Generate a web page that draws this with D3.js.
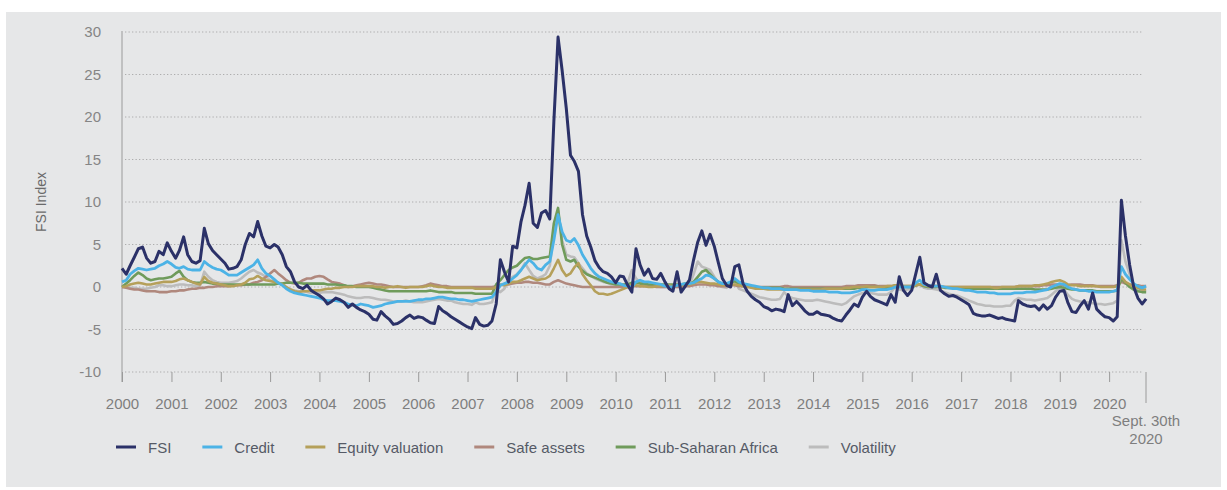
<!DOCTYPE html>
<html>
<head>
<meta charset="utf-8">
<script src="https://cdn.jsdelivr.net/npm/d3@7"></script>
<style>
  html, body { margin: 0; padding: 0; background: #ffffff; }
  svg { display: block; font-family: "Liberation Sans", Arial, sans-serif; }
</style>
</head>
<body>
<svg id="chart" width="1227" height="490"></svg>
<script>
// ---------- DATA (monthly, first of month, Jan 2000 .. Oct 2020 ~ Sept. 30th) ----------
const startYear = 2000;
const yTicks = [-10, -5, 0, 5, 10, 15, 20, 25, 30];
const yearLabels = ["2000","2001","2002","2003","2004","2005","2006","2007","2008","2009","2010",
                    "2011","2012","2013","2014","2015","2016","2017","2018","2019","2020"];
const endLabel = ["Sept. 30th", "2020"];
const seriesNames = ["FSI", "Credit", "Equity valuation", "Safe assets", "Sub-Saharan Africa", "Volatility"];

const fsi = [
  2.2, 1.5, 2.5, 3.5, 4.5, 4.7, 3.4, 2.8, 3.0, 4.2, 3.8, 5.2,
  4.2, 3.4, 4.3, 5.9, 3.8, 3.0, 2.8, 3.1, 6.9, 5.1, 4.3, 3.8,
  3.3, 2.8, 2.1, 2.2, 2.4, 3.2, 5.0, 6.3, 5.9, 7.7, 6.0, 4.8,
  4.6, 5.0, 4.7, 3.8, 2.4, 1.8, 0.6, 0.0, -0.2, 0.2, -0.4, -0.7,
  -1.0, -1.4, -2.0, -1.7, -1.3, -1.5, -1.8, -2.4, -2.0, -2.4, -2.7, -2.9,
  -3.2, -3.8, -3.9, -2.9, -3.4, -3.8, -4.4, -4.3, -4.0, -3.6, -3.3, -3.7,
  -3.5, -3.6, -3.9, -4.2, -4.3, -2.3, -2.8, -3.1, -3.5, -3.8, -4.1, -4.4,
  -4.7, -4.9, -3.6, -4.4, -4.6, -4.5, -4.0, -2.0, 3.2, 1.8, 0.6, 4.8,
  4.6, 7.7, 9.6, 12.2, 7.5, 7.0, 8.7, 9.0, 8.0, 19.5, 29.4, 25.5,
  21.0, 15.5, 14.8, 13.6, 8.5, 6.0, 4.7, 3.1, 2.3, 1.8, 1.6, 1.2,
  0.5, 1.3, 1.2, 0.2, -0.6, 4.5, 2.6, 1.4, 2.1, 1.0, 0.9, 1.6,
  0.6, -0.2, -0.5, 1.8, -0.6, 0.1, 0.8, 3.2, 5.3, 6.6, 4.9, 6.2,
  4.8, 2.8, 1.0, 0.2, 0.0, 2.4, 2.6, 0.4, -0.5, -1.1, -1.5, -1.8,
  -2.3, -2.5, -2.8, -2.6, -2.7, -2.9, -0.9, -2.2, -1.7, -2.2, -2.8, -3.2,
  -3.2, -2.9, -3.2, -3.3, -3.4, -3.7, -3.9, -4.0, -3.3, -2.7, -2.0, -2.3,
  -1.2, -0.5, -1.1, -1.5, -1.7, -1.9, -2.1, -0.9, -1.8, 1.2, -0.4, -1.0,
  -0.4, 1.6, 3.5, 0.5, 0.2, 0.0, 1.5, -0.4, -0.8, -1.1, -1.0, -1.2,
  -1.5, -1.8, -2.1, -3.1, -3.3, -3.4, -3.4, -3.3, -3.5, -3.7, -3.6, -3.8,
  -3.9, -4.0, -1.6, -2.0, -2.2, -2.3, -2.2, -2.7, -2.1, -2.6, -2.2, -1.2,
  -0.5, -0.4, -1.8, -2.9, -3.0, -2.2, -1.6, -2.6, -0.7, -2.6, -3.1, -3.5,
  -3.6, -4.0, -3.5, 10.2, 6.0, 2.6, 0.0, -1.3, -2.0, -1.4
];

const credit = [
  0.6, 0.8, 1.5, 1.9, 2.2, 2.1, 2.0, 2.1, 2.2, 2.5, 2.7, 3.0,
  2.7, 2.3, 2.2, 2.4, 2.1, 2.0, 2.0, 2.0, 3.0, 2.6, 2.3, 2.1,
  2.0, 1.7, 1.4, 1.4, 1.4, 1.7, 2.0, 2.3, 2.6, 3.2, 2.2, 1.6,
  1.3, 0.9, 0.5, 0.2, -0.2, -0.5, -0.7, -0.8, -0.9, -1.0, -1.1, -1.2,
  -1.3, -1.5, -1.6, -1.6, -1.6, -1.7, -1.8, -2.0, -2.1, -2.2, -2.0, -2.1,
  -2.2, -2.4, -2.3, -2.2, -2.0, -1.9, -1.8, -1.7, -1.7, -1.7, -1.7, -1.6,
  -1.5, -1.5, -1.4, -1.4, -1.3, -1.2, -1.2, -1.3, -1.4, -1.4, -1.5, -1.5,
  -1.6, -1.7, -1.6, -1.5, -1.4, -1.3, -1.2, -0.6, 0.2, 0.4, 0.6, 1.0,
  1.4, 2.0, 2.6, 3.2, 2.8, 2.2, 2.0, 2.6, 3.0, 5.5, 8.5, 6.5,
  5.5, 5.3, 5.7, 4.9, 3.8, 3.0, 2.2, 1.6, 1.2, 1.0, 0.8, 0.6,
  0.5, 0.4, 0.2, 0.1, 0.0, 0.6, 0.8, 0.6, 0.6, 0.5, 0.4, 0.3,
  0.1, 0.0, 0.0, 0.2, 0.3, 0.4, 0.4, 0.5, 0.8, 1.0, 1.4, 1.3,
  1.0, 0.6, 0.4, 0.4, 0.6, 1.0, 0.6, 0.4, 0.3, 0.2, 0.1, 0.0,
  -0.1, -0.1, -0.2, -0.2, -0.2, -0.3, -0.3, -0.3, -0.3, -0.4, -0.4, -0.4,
  -0.5, -0.5, -0.5, -0.5, -0.6, -0.6, -0.6, -0.7, -0.7, -0.7, -0.6, -0.5,
  -0.3, -0.3, -0.4, -0.4, -0.3, -0.3, -0.3, -0.2, 0.0, 0.0, 0.0, 0.0,
  0.0, 0.5, 0.8, 0.3, 0.2, 0.1, 0.1, 0.1, 0.0, -0.1, -0.2, -0.2,
  -0.3, -0.4, -0.4, -0.5, -0.6, -0.6, -0.6, -0.7, -0.7, -0.8, -0.8, -0.8,
  -0.8, -0.7, -0.7, -0.7, -0.6, -0.6, -0.6, -0.5, -0.4, -0.3, 0.0, 0.2,
  0.4, 0.3, 0.0, -0.2, -0.3, -0.4, -0.4, -0.5, -0.5, -0.6, -0.6, -0.6,
  -0.6, -0.5, -0.4, 2.4, 1.5, 0.9, 0.4, 0.1, -0.1, 0.1
];

const equity = [
  0.0, 0.1, 0.3, 0.4, 0.5, 0.4, 0.3, 0.3, 0.4, 0.5, 0.6, 0.6,
  0.6, 0.7, 0.9, 1.0, 0.8, 0.6, 0.4, 0.3, 1.2, 0.7, 0.5, 0.4,
  0.3, 0.2, 0.1, 0.1, 0.2, 0.3, 0.5, 0.9, 1.0, 1.3, 1.0, 0.8,
  0.7, 0.6, 0.5, 0.3, 0.0, -0.3, -0.5, -0.6, -0.5, -0.5, -0.4, -0.4,
  -0.4, -0.3, -0.2, -0.2, -0.1, -0.1, 0.0, 0.0, 0.0, 0.1, 0.1, 0.1,
  0.1, 0.1, 0.0, 0.0, -0.1, 0.0, 0.0, 0.1, 0.0, -0.1, 0.0, 0.0,
  0.0, 0.0, 0.1, 0.2, 0.1, 0.0, 0.0, -0.1, -0.1, -0.1, -0.1, -0.1,
  -0.1, -0.1, -0.2, -0.2, -0.2, -0.2, -0.2, 0.0, 0.3, 0.2, 0.4, 0.6,
  0.6, 0.8, 1.0, 1.2, 1.0, 0.8, 0.9, 1.0, 1.3, 2.2, 3.2, 2.0,
  1.3, 1.6, 2.3, 2.8, 1.5, 0.8, 0.2, -0.5, -0.8, -0.8, -0.9, -0.8,
  -0.6, -0.4, -0.2, 0.0, 0.3, 0.2, 0.1, 0.1, 0.0, 0.0, 0.1, 0.1,
  0.2, 0.2, 0.1, 0.2, 0.2, 0.2, 0.3, 0.4, 0.6, 0.6, 0.5, 0.4,
  0.4, 0.3, 0.2, 0.2, 0.3, 0.3, 0.2, 0.1, 0.0, -0.1, -0.2, -0.2,
  -0.2, -0.3, -0.3, -0.3, -0.3, -0.3, -0.3, -0.3, -0.3, -0.3, -0.3, -0.3,
  -0.3, -0.3, -0.3, -0.2, -0.2, -0.2, -0.2, -0.2, -0.1, -0.1, 0.0, 0.0,
  0.0, 0.1, 0.0, 0.0, 0.0, 0.0, 0.1, 0.1, 0.2, 0.2, 0.1, 0.1,
  0.1, 0.2, 0.3, 0.2, 0.1, 0.1, 0.1, 0.0, 0.0, 0.0, 0.0, 0.0,
  0.0, 0.0, 0.0, 0.0, 0.0, 0.0, 0.0, 0.0, -0.1, -0.1, 0.0, 0.0,
  0.0, 0.0, 0.1, 0.1, 0.1, 0.1, 0.2, 0.2, 0.3, 0.4, 0.6, 0.7,
  0.8, 0.6, 0.3, 0.2, 0.2, 0.1, 0.1, 0.1, 0.1, 0.1, 0.0, 0.0,
  0.0, 0.0, 0.1, 1.2, 0.6, 0.3, 0.0, -0.1, -0.3, -0.3
];

const safeAssets = [
  0.0, -0.1, -0.2, -0.3, -0.3, -0.4, -0.5, -0.5, -0.5, -0.6, -0.6, -0.6,
  -0.5, -0.5, -0.4, -0.4, -0.3, -0.2, -0.2, -0.1, -0.1, 0.0, 0.0, 0.1,
  0.1, 0.1, 0.1, 0.2, 0.2, 0.2, 0.3, 0.3, 0.5, 0.6, 0.8, 1.2,
  1.6, 2.0, 1.6, 1.2, 0.8, 0.5, 0.4, 0.5, 0.8, 1.0, 1.0, 1.2,
  1.3, 1.2, 0.9, 0.6, 0.5, 0.4, 0.2, 0.0, 0.1, 0.2, 0.3, 0.4,
  0.5, 0.4, 0.3, 0.3, 0.2, 0.1, 0.0, 0.0, 0.0, 0.0, 0.0, 0.0,
  0.0, 0.1, 0.2, 0.4, 0.3, 0.2, 0.1, 0.1, 0.0, 0.0, 0.0, 0.0,
  0.0, 0.0, 0.0, 0.0, 0.0, 0.0, 0.0, 0.1, 0.2, 0.3, 0.3, 0.4,
  0.5, 0.5, 0.6, 0.6, 0.5, 0.5, 0.4, 0.3, 0.3, 0.6, 0.8, 0.6,
  0.4, 0.3, 0.2, 0.1, 0.0, 0.0, 0.0, 0.0, 0.0, 0.0, 0.0, 0.0,
  0.0, 0.0, 0.0, 0.0, 0.1, 0.1, 0.1, 0.1, 0.1, 0.1, 0.0, 0.0,
  0.0, 0.0, 0.0, 0.0, 0.0, 0.1, 0.1, 0.2, 0.3, 0.3, 0.3, 0.2,
  0.2, 0.1, 0.1, 0.1, 0.2, 0.2, 0.1, 0.1, 0.1, 0.0, 0.0, 0.0,
  0.0, 0.0, 0.0, 0.0, 0.0, 0.1, 0.1, 0.0, 0.0, 0.0, 0.0, 0.0,
  0.0, 0.0, 0.0, 0.0, 0.0, 0.0, 0.0, 0.0, 0.1, 0.1, 0.1, 0.2,
  0.2, 0.2, 0.2, 0.2, 0.1, 0.1, 0.1, 0.1, 0.1, 0.1, 0.1, 0.1,
  0.1, 0.2, 0.3, 0.2, 0.1, 0.1, 0.1, 0.1, 0.0, 0.0, 0.0, 0.0,
  0.0, 0.0, 0.0, 0.0, 0.0, 0.0, 0.0, 0.0, 0.0, 0.0, 0.0, 0.0,
  0.0, 0.0, 0.1, 0.1, 0.1, 0.1, 0.1, 0.1, 0.2, 0.2, 0.3, 0.3,
  0.3, 0.2, 0.2, 0.3, 0.3, 0.3, 0.2, 0.2, 0.2, 0.1, 0.1, 0.1,
  0.1, 0.1, 0.2, 0.6, 0.4, 0.3, 0.2, 0.2, 0.1, 0.1
];

const subSaharan = [
  0.0, 0.4, 0.8, 1.3, 1.7, 1.4, 1.0, 0.8, 0.9, 1.0, 1.0, 1.1,
  1.2, 1.6, 1.9, 1.2, 0.8, 0.6, 0.5, 0.5, 0.6, 0.5, 0.4, 0.4,
  0.3, 0.3, 0.3, 0.3, 0.3, 0.3, 0.3, 0.3, 0.3, 0.3, 0.3, 0.3,
  0.3, 0.3, 0.4, 0.4, 0.5, 0.5, 0.5, 0.5, 0.4, 0.4, 0.4, 0.4,
  0.4, 0.4, 0.3, 0.3, 0.3, 0.2, 0.2, 0.1, 0.1, 0.0, 0.0, 0.0,
  0.0, -0.1, -0.2, -0.3, -0.4, -0.5, -0.5, -0.5, -0.5, -0.5, -0.5, -0.5,
  -0.5, -0.5, -0.5, -0.4, -0.5, -0.6, -0.6, -0.6, -0.6, -0.7, -0.7, -0.7,
  -0.7, -0.7, -0.8, -0.8, -0.8, -0.8, -0.8, 0.3, 0.8, 1.4, 2.0, 2.3,
  2.5, 3.0, 3.4, 3.5, 3.3, 3.3, 3.4, 3.5, 3.6, 7.5, 9.3, 5.0,
  3.2, 3.0, 3.2, 2.4, 1.9, 1.5, 1.3, 1.1, 0.9, 0.7, 0.5, 0.4,
  0.3, 0.3, 0.3, 0.3, 0.5, 0.5, 0.4, 0.4, 0.3, 0.3, 0.3, 0.3,
  0.3, 0.3, 0.3, 0.3, 0.3, 0.4, 0.4, 0.6, 1.2, 1.8, 2.0, 1.5,
  1.0, 0.6, 0.4, 0.3, 0.5, 0.7, 0.4, 0.2, 0.1, 0.0, 0.0, -0.1,
  -0.1, -0.1, -0.1, -0.1, -0.1, -0.2, -0.2, -0.2, -0.2, -0.2, -0.2, -0.2,
  -0.2, -0.2, -0.2, -0.2, -0.2, -0.2, -0.2, -0.2, -0.2, -0.2, -0.2, -0.1,
  -0.1, 0.0, 0.0, 0.0, 0.0, -0.1, -0.1, 0.0, 0.2, 0.1, 0.0, 0.0,
  0.0, 0.2, 0.3, 0.1, 0.0, 0.0, 0.0, 0.0, -0.1, -0.1, -0.1, -0.1,
  -0.1, -0.1, -0.2, -0.2, -0.2, -0.2, -0.2, -0.2, -0.2, -0.2, -0.2, -0.2,
  -0.2, -0.2, -0.2, -0.2, -0.2, -0.2, -0.3, -0.3, -0.3, -0.3, -0.2, -0.1,
  0.0, -0.1, -0.2, -0.3, -0.3, -0.4, -0.4, -0.4, -0.4, -0.5, -0.5, -0.5,
  -0.5, -0.5, -0.4, 1.0, 0.5, 0.0, -0.3, -0.5, -0.6, -0.6
];

const volatility = [
  0.0, 0.0, -0.1, -0.1, -0.2, -0.2, -0.2, -0.1, 0.0, 0.2, 0.2, 0.1,
  0.1, 0.2, 0.3, 0.3, 0.2, 0.2, 0.1, 0.2, 1.8, 1.2, 0.8, 0.6,
  0.5, 0.5, 0.5, 0.6, 0.7, 1.0, 1.4, 1.8, 2.0, 1.7, 1.5, 1.2,
  0.8, 0.7, 0.5, 0.3, 0.0, -0.3, -0.4, -0.5, -0.5, -0.6, -0.7, -0.7,
  -0.7, -0.6, -0.6, -0.6, -0.7, -0.8, -0.9, -1.1, -1.2, -1.3, -1.3, -1.2,
  -1.2, -1.3, -1.4, -1.5, -1.5, -1.6, -1.7, -1.7, -1.7, -1.6, -1.7, -1.8,
  -1.8, -1.8, -1.7, -1.6, -1.5, -1.4, -1.5, -1.6, -1.6, -1.8, -1.9, -2.0,
  -2.0, -2.1, -1.8, -2.0, -2.0, -1.9, -1.8, -0.3, -0.6, -0.2, 0.8, 1.2,
  1.5, 2.0, 2.8, 2.0, 1.3, 1.0, 1.2, 1.5, 2.5, 6.5, 9.0, 5.5,
  3.8, 3.6, 3.5, 2.8, 2.2, 1.6, 1.3, 1.0, 0.8, 0.6, 0.5, 0.3,
  0.3, 0.3, 0.2, 0.5, 2.0, 1.0, 0.5, 0.4, 0.2, 0.1, 0.1, 0.0,
  0.0, 0.0, 0.2, 0.0, 0.1, 0.1, 0.2, 1.5, 3.0, 2.4, 2.2, 2.0,
  1.2, 0.5, 0.0, -0.1, 0.4, 0.6, -0.2, -0.4, -0.6, -0.8, -1.0, -1.2,
  -1.3, -1.4, -1.5, -1.5, -1.4, -0.6, -1.1, -1.3, -1.4, -1.5, -1.6, -1.6,
  -1.6, -1.5, -1.6, -1.7, -1.8, -1.9, -2.0, -2.1, -1.9, -1.5, -1.1, -0.9,
  -0.7, -0.6, -0.7, -0.8, -0.9, -0.9, -0.9, -0.6, 0.0, -0.3, -0.4, -0.3,
  -0.2, 0.2, 0.3, -0.1, -0.2, -0.2, -0.3, -0.4, -0.6, -0.8, -0.9, -1.0,
  -1.2, -1.4, -1.6, -1.8, -2.0, -2.1, -2.2, -2.2, -2.3, -2.3, -2.3, -2.2,
  -2.2, -1.6, -1.3, -1.4, -1.5, -1.5, -1.6, -1.5, -1.4, -1.3, -0.9, -0.5,
  0.0, -0.3, -0.9, -1.4, -1.6, -1.7, -1.8, -1.8, -1.9, -2.0, -2.0, -2.1,
  -2.0, -1.9, -1.6, 5.5, 3.0, 1.5, 0.3, -0.3, -0.5, -0.5
];

const colors = {
  "FSI": "#2b3168",
  "Credit": "#4cb3e6",
  "Equity valuation": "#b5a05a",
  "Safe assets": "#b0887d",
  "Sub-Saharan Africa": "#6f9b5b",
  "Volatility": "#bcbcbc"
};

// ---------- CHART ----------
const svg = d3.select("#chart");
const W = 1227, H = 490;
const margin = { left: 122, right: 81, top: 32, bottom: 118 };
const endDate = new Date(2020, 8, 30);

// panel
svg.append("rect").attr("x", 6).attr("y", 12).attr("width", 1215).attr("height", 475).attr("fill", "#e6e7e8");

const x = d3.scaleTime().domain([new Date(startYear, 0, 1), endDate]).range([margin.left, W - margin.right]);
const y = d3.scaleLinear().domain([-10, 30]).range([H - margin.bottom, margin.top]);

const dates = fsi.map((_, i) => new Date(startYear, i, 1));
const seriesData = {
  "FSI": fsi, "Credit": credit, "Equity valuation": equity,
  "Safe assets": safeAssets, "Sub-Saharan Africa": subSaharan, "Volatility": volatility
};

// gridlines
const grid = svg.append("g");
grid.selectAll("line").data(yTicks).join("line")
  .attr("x1", margin.left + 3).attr("x2", W - margin.right - 3)
  .attr("y1", d => y(d)).attr("y2", d => y(d))
  .attr("stroke", "#adadad").attr("stroke-width", 1.2)
  .attr("stroke-dasharray", "1.3,2.2");

// y axis labels
const yAxis = d3.axisLeft(y).tickValues(yTicks).tickSize(0).tickPadding(21)
  .tickFormat(d => String(d));
const gy = svg.append("g").attr("transform", `translate(${margin.left},0)`).call(yAxis);
gy.select(".domain").remove();
gy.selectAll("text").attr("fill", "#858585").style("font-size", "15px")
  .style("font-family", "'Liberation Sans', Arial, sans-serif");

// y axis line
svg.append("line").attr("x1", margin.left).attr("x2", margin.left)
  .attr("y1", y(30) - 1).attr("y2", y(-10) + 10)
  .attr("stroke", "#9a9a9a").attr("stroke-width", 1);

// x ticks + labels
const yearDates = yearLabels.map(s => new Date(+s, 0, 1));
const xAxis = d3.axisBottom(x).tickValues(yearDates).tickSize(10).tickPadding(16)
  .tickFormat((d, i) => yearLabels[i]);
const gx = svg.append("g").attr("transform", `translate(0,${y(-10)})`).call(xAxis);
gx.select(".domain").remove();
gx.selectAll(".tick line").attr("stroke", "#9a9a9a").attr("stroke-width", 1);
gx.selectAll("text").attr("fill", "#7e7e7e").style("font-size", "15px")
  .style("font-family", "'Liberation Sans', Arial, sans-serif");

// end marker
svg.append("line").attr("x1", x(endDate)).attr("x2", x(endDate))
  .attr("y1", y(-10)).attr("y2", y(-10) + 31)
  .attr("stroke", "#9a9a9a").attr("stroke-width", 1);
svg.append("text").attr("x", x(endDate)).attr("y", 426).attr("text-anchor", "middle")
  .attr("fill", "#7e7e7e").style("font-size", "15px").text(endLabel[0]);
svg.append("text").attr("x", x(endDate)).attr("y", 444).attr("text-anchor", "middle")
  .attr("fill", "#7e7e7e").style("font-size", "15px").text(endLabel[1]);

// y title
svg.append("text").attr("transform", `translate(46,${(y(30) + y(-10)) / 2}) rotate(-90)`)
  .attr("text-anchor", "middle").attr("fill", "#6a6a6a").style("font-size", "14px")
  .text("FSI Index");

// lines
const line = d3.line().x((d, i) => x(dates[i])).y(d => y(d));
const drawOrder = ["Volatility", "Safe assets", "Sub-Saharan Africa", "Equity valuation", "Credit", "FSI"];
const widths = { "FSI": 3, "Credit": 2.8 };
svg.append("g").selectAll("path").data(drawOrder).join("path")
  .attr("d", name => line(seriesData[name]))
  .attr("fill", "none")
  .attr("stroke", name => colors[name])
  .attr("stroke-width", name => widths[name] || 2.6)
  .attr("stroke-linejoin", "round");

// legend
const legend = svg.append("g").attr("transform", "translate(116,447)");
let cx = 0;
seriesNames.forEach(name => {
  const g = legend.append("g").attr("transform", `translate(${cx},0)`);
  g.append("line").attr("x1", 0).attr("x2", 20).attr("y1", 0).attr("y2", 0)
    .attr("stroke", colors[name]).attr("stroke-width", 3);
  const t = g.append("text").attr("x", 32).attr("y", 5.5).attr("fill", "#555a66")
    .style("font-size", "15px").text(name);
  cx += 32 + t.node().getComputedTextLength() + 31;
});
</script>
</body>
</html>
